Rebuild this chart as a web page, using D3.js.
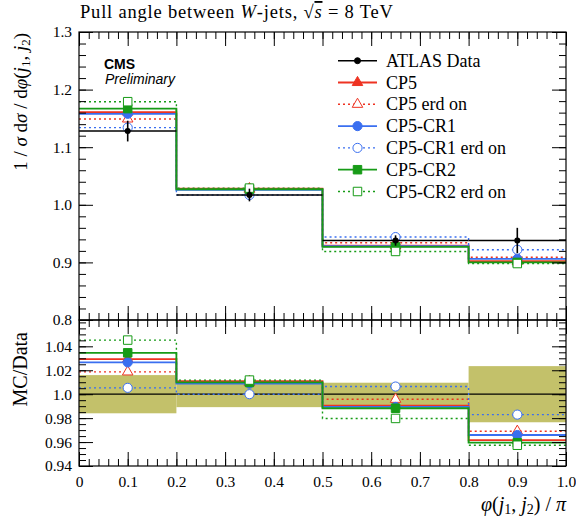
<!DOCTYPE html>
<html>
<head>
<meta charset="utf-8">
<script src="https://cdn.jsdelivr.net/npm/d3@7"></script>
<style>
    body { margin: 0; background: #fff; }
    svg text { font-family: "Liberation Serif", "DejaVu Serif", serif; fill: #000; }
</style>
</head>
<body>
<div id="chart"></div>
<script>
// Bins of phi(j1,j2)/pi
const binEdges = [0, 0.2, 0.5, 0.8, 1.0];
const binCenters = [0.1, 0.35, 0.65, 0.9];

// ATLAS data and its uncertainty
const atlasData = [1.128, 1.017, 0.938, 0.938];
const atlasErr = [0.018, 0.011, 0.009, 0.022];

// MC predictions (1/sigma dsigma/dphi)
const cp5 = [1.161, 1.028, 0.929, 0.902];
const cp5Erd = [1.149, 1.027, 0.934, 0.909];
const cp5Cr1 = [1.158, 1.026, 0.928, 0.906];
const cp5Cr1Erd = [1.134, 1.017, 0.944, 0.922];
const cp5Cr2 = [1.167, 1.027, 0.927, 0.900];
const cp5Cr2Erd = [1.179, 1.029, 0.919, 0.898];

// Tick labels
const xTicks = [0, 0.1, 0.2, 0.3, 0.4, 0.5, 0.6, 0.7, 0.8, 0.9, 1.0];
const mainYTicks = [0.8, 0.9, 1.0, 1.1, 1.2, 1.3];
const ratioYTicks = [0.94, 0.96, 0.98, 1.0, 1.02, 1.04];

const series = [
    { name: "CP5", values: cp5, color: "#ee3322", dash: null, symbol: d3.symbolTriangle, size: 48, filled: true },
    { name: "CP5 erd on", values: cp5Erd, color: "#ee3322", dash: "2,3", symbol: d3.symbolTriangle, size: 48, filled: false },
    { name: "CP5-CR1", values: cp5Cr1, color: "#3a6ff0", dash: null, symbol: d3.symbolCircle, size: 66, filled: true },
    { name: "CP5-CR1 erd on", values: cp5Cr1Erd, color: "#3a6ff0", dash: "2,3", symbol: d3.symbolCircle, size: 66, filled: false },
    { name: "CP5-CR2", values: cp5Cr2, color: "#179b17", dash: null, symbol: d3.symbolSquare, size: 72, filled: true },
    { name: "CP5-CR2 erd on", values: cp5Cr2Erd, color: "#179b17", dash: "2,3", symbol: d3.symbolSquare, size: 72, filled: false }
];

const W = 576, H = 518;
const left = 79, right = 566;
const mainTop = 32, mainBottom = 320;
const ratioBottom = 466;

const svg = d3.select("#chart").append("svg")
    .attr("width", W)
    .attr("height", H);

const x = d3.scaleLinear().domain([0, 1]).range([left, right]);
const y = d3.scaleLinear().domain([0.8, 1.3]).range([mainBottom, mainTop]);
const yr = d3.scaleLinear().domain([0.94, 1.062]).range([ratioBottom, mainBottom]);

const band = svg.append("g");
const marks = svg.append("g");
const axes = svg.append("g");

// Ratio band from data uncertainty
band.selectAll("rect")
    .data(binCenters)
    .enter().append("rect")
    .attr("x", (d, i) => x(binEdges[i]))
    .attr("width", (d, i) => x(binEdges[i + 1]) - x(binEdges[i]))
    .attr("y", (d, i) => yr(1 + atlasErr[i] / atlasData[i]))
    .attr("height", (d, i) => yr(1 - atlasErr[i] / atlasData[i]) - yr(1 + atlasErr[i] / atlasData[i]))
    .attr("fill", "#c3c16a");

// Step line through bins
function stepPath(vals, scale) {
    let p = "";
    vals.forEach((v, i) => {
        p += (i === 0 ? "M" : "L") + x(binEdges[i]) + "," + scale(v);
        p += "L" + x(binEdges[i + 1]) + "," + scale(v);
    });
    return p;
}

function drawSeries(g, s, scale, vals) {
    g.append("path")
        .attr("d", stepPath(vals, scale))
        .attr("fill", "none")
        .attr("stroke", s.color)
        .attr("stroke-width", s.dash ? 1.4 : 1.8)
        .attr("stroke-dasharray", s.dash);
    g.selectAll(null)
        .data(vals)
        .enter().append("path")
        .attr("d", d3.symbol().type(s.symbol).size(s.size))
        .attr("transform", (d, i) => `translate(${x(binCenters[i])},${scale(d)})`)
        .attr("fill", s.filled ? s.color : "#fff")
        .attr("stroke", s.color)
        .attr("stroke-width", 1);
}

// Main panel MC
series.forEach(s => drawSeries(marks.append("g"), s, y, s.values));

// Main panel data
const dataG = marks.append("g");
binCenters.forEach((c, i) => {
    dataG.append("line")
        .attr("x1", x(binEdges[i])).attr("x2", x(binEdges[i + 1]))
        .attr("y1", y(atlasData[i])).attr("y2", y(atlasData[i]))
        .attr("stroke", "#000").attr("stroke-width", 1.6);
    dataG.append("line")
        .attr("x1", x(c)).attr("x2", x(c))
        .attr("y1", y(atlasData[i] - atlasErr[i])).attr("y2", y(atlasData[i] + atlasErr[i]))
        .attr("stroke", "#000").attr("stroke-width", 1.6);
    dataG.append("circle")
        .attr("cx", x(c)).attr("cy", y(atlasData[i]))
        .attr("r", 3)
        .attr("fill", "#000");
});

// Ratio panel: data reference line, then MC / data
binCenters.forEach((c, i) => {
    marks.append("line")
        .attr("x1", x(binEdges[i])).attr("x2", x(binEdges[i + 1]))
        .attr("y1", yr(1)).attr("y2", yr(1))
        .attr("stroke", "#000").attr("stroke-width", 1.2);
});
series.forEach(s => drawSeries(marks.append("g"), s, yr, s.values.map((v, i) => v / atlasData[i])));

// Axes: major and minor ticks pointing inwards on all four sides
function fmtX(d) { return d === 0 ? "0" : d.toFixed(1); }
function fmtRatio(d) { return d === 1 ? "1.0" : d.toFixed(2); }

function addAxis(axis, tx, ty, labels) {
    const g = axes.append("g")
        .attr("transform", `translate(${tx},${ty})`)
        .call(axis);
    g.select(".domain").remove();
    g.selectAll("line").attr("stroke", "#000").attr("stroke-width", 1);
    g.selectAll("text").style("font-size", "15.5px").style("font-family", "Liberation Serif");
    if (!labels) g.selectAll("text").remove();
}

const xMinor = d3.range(0, 1.0001, 0.02);
const mainMinor = d3.range(0.8, 1.3001, 0.02);
const ratioMinor = d3.range(0.94, 1.0601, 0.005);

// main panel
addAxis(d3.axisLeft(y).tickValues(mainYTicks).tickSize(-14).tickPadding(7).tickFormat(d3.format(".1f")), left, 0, true);
addAxis(d3.axisLeft(y).tickValues(mainMinor).tickSize(-7), left, 0, false);
addAxis(d3.axisRight(y).tickValues(mainYTicks).tickSize(-14), right, 0, false);
addAxis(d3.axisRight(y).tickValues(mainMinor).tickSize(-7), right, 0, false);
addAxis(d3.axisTop(x).tickValues(xTicks).tickSize(-14), 0, mainTop, false);
addAxis(d3.axisTop(x).tickValues(xMinor).tickSize(-7), 0, mainTop, false);
addAxis(d3.axisBottom(x).tickValues(xTicks).tickSize(-14), 0, mainBottom, false);
addAxis(d3.axisBottom(x).tickValues(xMinor).tickSize(-7), 0, mainBottom, false);

// ratio panel
addAxis(d3.axisLeft(yr).tickValues(ratioYTicks).tickSize(-14).tickPadding(7).tickFormat(fmtRatio), left, 0, true);
addAxis(d3.axisLeft(yr).tickValues(ratioMinor).tickSize(-7), left, 0, false);
addAxis(d3.axisRight(yr).tickValues(ratioYTicks).tickSize(-14), right, 0, false);
addAxis(d3.axisRight(yr).tickValues(ratioMinor).tickSize(-7), right, 0, false);
addAxis(d3.axisTop(x).tickValues(xTicks).tickSize(-14), 0, mainBottom, false);
addAxis(d3.axisTop(x).tickValues(xMinor).tickSize(-7), 0, mainBottom, false);
addAxis(d3.axisBottom(x).tickValues(xTicks).tickSize(-14).tickPadding(10).tickFormat(fmtX), 0, ratioBottom, true);
addAxis(d3.axisBottom(x).tickValues(xMinor).tickSize(-7), 0, ratioBottom, false);

// Frames
axes.append("rect")
    .attr("x", left).attr("y", mainTop)
    .attr("width", right - left).attr("height", mainBottom - mainTop)
    .attr("fill", "none").attr("stroke", "#000").attr("stroke-width", 1.2);
axes.append("rect")
    .attr("x", left).attr("y", mainBottom)
    .attr("width", right - left).attr("height", ratioBottom - mainBottom)
    .attr("fill", "none").attr("stroke", "#000").attr("stroke-width", 1.2);

// Title
const title = svg.append("text")
    .attr("x", 80).attr("y", 18)
    .style("font-size", "18.5px")
    .style("letter-spacing", "0.8px");
title.append("tspan").text("Pull angle between ");
title.append("tspan").style("font-style", "italic").text("W");
title.append("tspan").text("-jets, \u221A");
title.append("tspan").style("font-style", "italic").style("text-decoration", "overline").text("s");
title.append("tspan").text(" = 8 TeV");

// CMS label
svg.append("text")
    .attr("x", 104).attr("y", 69)
    .style("font-family", "Liberation Sans")
    .style("font-weight", "bold")
    .style("font-size", "14px")
    .text("CMS");
svg.append("text")
    .attr("x", 105).attr("y", 84)
    .style("font-family", "Liberation Sans")
    .style("font-style", "italic")
    .style("font-size", "14px")
    .text("Preliminary");

// Axis labels
const yLab = svg.append("text")
    .attr("transform", "translate(27,33) rotate(-90)")
    .attr("text-anchor", "end")
    .style("font-size", "19px");
yLab.append("tspan").text("1 / ");
yLab.append("tspan").style("font-style", "italic").text("\u03C3");
yLab.append("tspan").text(" d");
yLab.append("tspan").style("font-style", "italic").text("\u03C3");
yLab.append("tspan").text(" / d");
yLab.append("tspan").style("font-style", "italic").text("\u03C6");
yLab.append("tspan").text("(");
yLab.append("tspan").style("font-style", "italic").text("j");
yLab.append("tspan").attr("dy", 3).style("font-size", "13px").text("1");
yLab.append("tspan").attr("dy", -3).text(", ");
yLab.append("tspan").style("font-style", "italic").text("j");
yLab.append("tspan").attr("dy", 3).style("font-size", "13px").text("2");
yLab.append("tspan").attr("dy", -3).text(")");

svg.append("text")
    .attr("transform", "translate(27,332) rotate(-90)")
    .attr("text-anchor", "end")
    .style("font-size", "20px")
    .text("MC/Data");

const xLab = svg.append("text")
    .attr("x", right).attr("y", 511)
    .attr("text-anchor", "end")
    .style("font-size", "20px");
xLab.append("tspan").style("font-style", "italic").text("\u03C6");
xLab.append("tspan").text("(");
xLab.append("tspan").style("font-style", "italic").text("j");
xLab.append("tspan").attr("dy", 3).style("font-size", "14px").text("1");
xLab.append("tspan").attr("dy", -3).text(", ");
xLab.append("tspan").style("font-style", "italic").text("j");
xLab.append("tspan").attr("dy", 3).style("font-size", "14px").text("2");
xLab.append("tspan").attr("dy", -3).text(") / ");
xLab.append("tspan").style("font-style", "italic").text("\u03C0");

// Legend
const legendItems = [{ name: "ATLAS Data", data: true }].concat(series);
const legend = svg.selectAll(".legend")
    .data(legendItems)
    .enter().append("g")
    .attr("class", "legend")
    .attr("transform", (d, i) => `translate(338,${60.7 + i * 21.8})`);

legend.append("line")
    .attr("x1", 0).attr("x2", 39)
    .attr("stroke", d => d.data ? "#000" : d.color)
    .attr("stroke-width", d => d.data ? 1.6 : (d.dash ? 1.4 : 1.8))
    .attr("stroke-dasharray", d => d.data ? null : d.dash);

legend.append("path")
    .attr("transform", "translate(19.5,0)")
    .attr("d", d => d.data ? d3.symbol().type(d3.symbolCircle).size(28)() : d3.symbol().type(d.symbol).size(d.size)())
    .attr("fill", d => d.data ? "#000" : (d.filled ? d.color : "#fff"))
    .attr("stroke", d => d.data ? "#000" : d.color)
    .attr("stroke-width", 1);

legend.append("text")
    .attr("x", 48)
    .attr("y", 6)
    .style("font-size", "18px")
    .text(d => d.name);
</script>
</body>
</html>
